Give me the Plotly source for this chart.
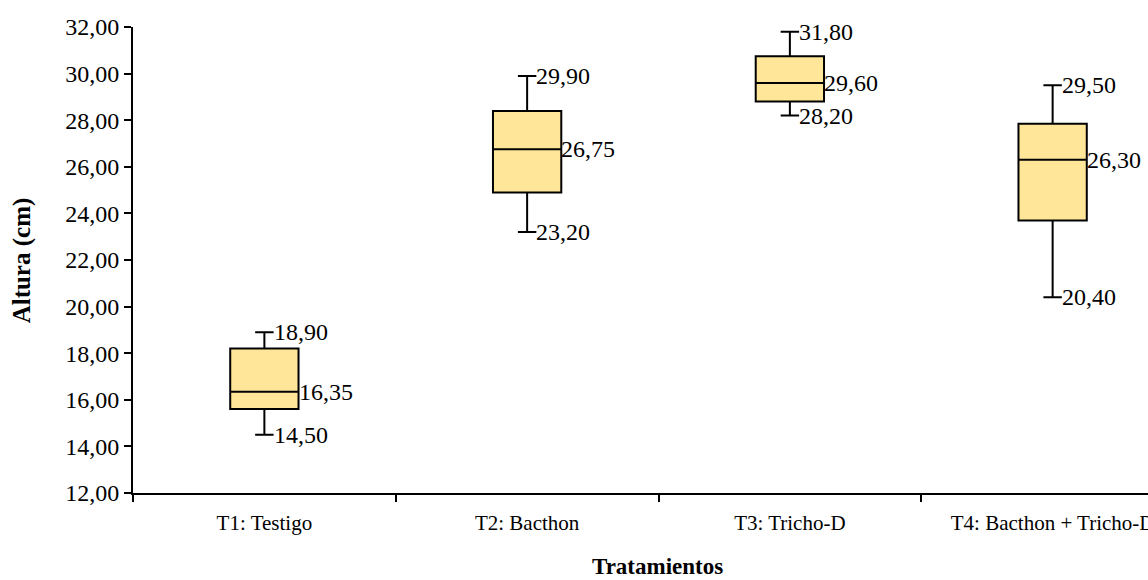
import plotly.graph_objects as go

categories = ["T1: Testigo", "T2: Bacthon", "T3: Tricho-D", "T4: Bacthon + Tricho-D"]
minimum = [14.50, 23.20, 28.20, 20.40]
q1 = [15.60, 24.90, 28.80, 23.70]
median = [16.35, 26.75, 29.60, 26.30]
q3 = [18.20, 28.40, 30.75, 27.85]
maximum = [18.90, 29.90, 31.80, 29.50]
y_ticks = [12, 14, 16, 18, 20, 22, 24, 26, 28, 30, 32]

FONT = "Liberation Serif, Times New Roman, serif"
BOX_W = 0.26
CAP_FRAC = 0.27


def fmt(v):
    return f"{v:.2f}".replace(".", ",")


fig = go.Figure()
fig.add_trace(go.Box(
    x=categories,
    q1=q1, median=median, q3=q3,
    lowerfence=minimum, upperfence=maximum,
    width=BOX_W,
    whiskerwidth=CAP_FRAC,
    fillcolor="#FFE699",
    line=dict(color="black", width=2),
    boxpoints=False,
    hoverinfo="skip",
    showlegend=False,
))

annotations = []
for i, cat in enumerate(categories):
    cap_x = i + BOX_W * CAP_FRAC / 2
    box_x = i + BOX_W / 2
    for xv, yv in ((cap_x, maximum[i]), (cap_x, minimum[i]), (box_x, median[i])):
        annotations.append(dict(
            x=xv, y=yv, xref="x", yref="y", text=fmt(yv), showarrow=False,
            xanchor="left", yanchor="middle", xshift=-2,
            font=dict(family=FONT, size=24, color="black"),
        ))

annotations.append(dict(
    x=0.517, y=-0.157, xref="paper", yref="paper", text="<b>Tratamientos</b>",
    showarrow=False, xanchor="center", yanchor="middle",
    font=dict(family=FONT, size=23, color="black"),
))
annotations.append(dict(
    x=-0.109, y=0.5, xref="paper", yref="paper", text="<b>Altura (cm)</b>",
    showarrow=False, xanchor="center", yanchor="middle", textangle=-90,
    font=dict(family=FONT, size=25, color="black"),
))

fig.update_layout(
    width=1148, height=580,
    margin=dict(l=133, r=0, t=27, b=87, autoexpand=False),
    paper_bgcolor="white", plot_bgcolor="white",
    separators=",.",
    font=dict(family=FONT, color="black"),
    annotations=annotations,
)
fig.update_xaxes(
    type="category",
    range=[-0.5, -0.5 + 1015 / 262.75],
    tickson="boundaries",
    automargin=False,
    ticks="outside", ticklen=7, tickwidth=1.5, tickcolor="black",
    ticklabelstandoff=10,
    showline=True, linecolor="black", linewidth=2,
    showgrid=False, zeroline=False,
    tickfont=dict(family=FONT, size=21, color="black"),
)
fig.update_yaxes(
    range=[12, 32],
    tickvals=y_ticks,
    ticktext=[fmt(v) for v in y_ticks],
    automargin=False,
    ticks="outside", ticklen=7, tickwidth=1.5, tickcolor="black",
    showline=True, linecolor="black", linewidth=2,
    showgrid=False, zeroline=False,
    tickfont=dict(family=FONT, size=24, color="black"),
)

fig.write_html("out.html")
